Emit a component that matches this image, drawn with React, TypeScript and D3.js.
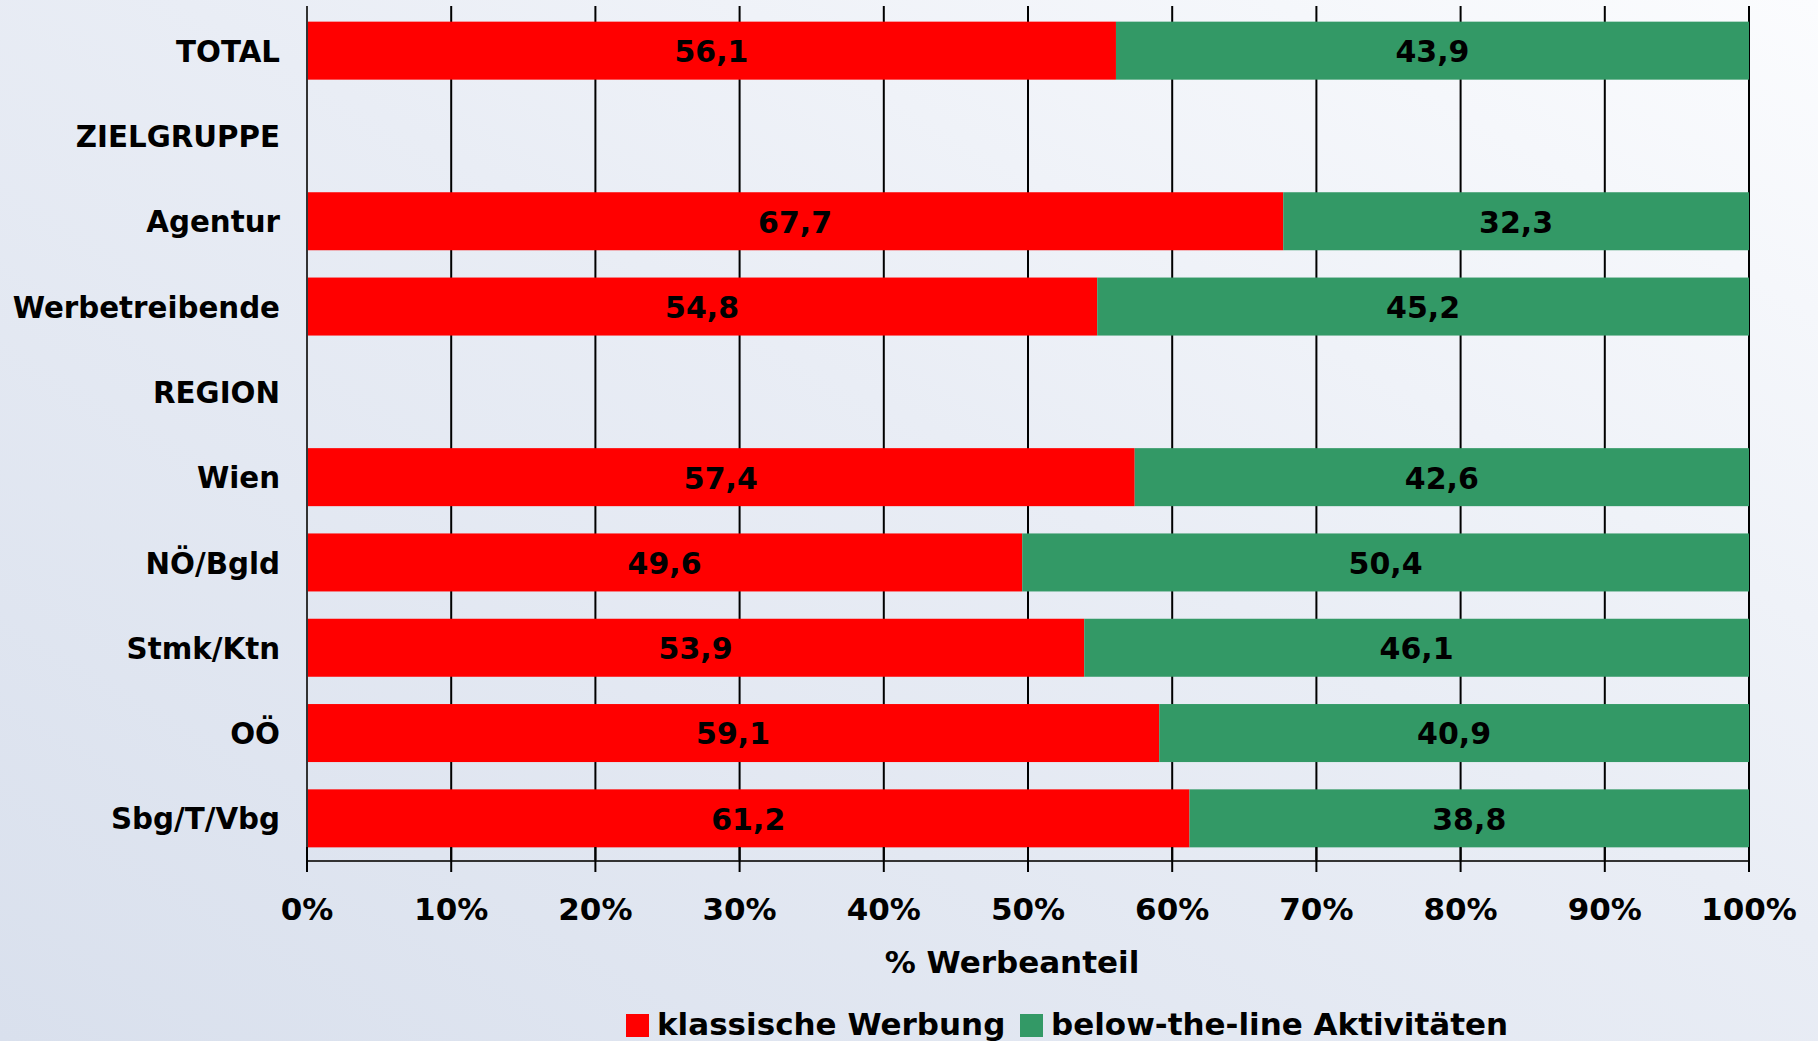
import React, { useEffect, useRef } from "react";
import * as d3 from "d3";

// categories top to bottom (empty rows are section headers)
const categories = [
  "TOTAL",
  "ZIELGRUPPE",
  "Agentur",
  "Werbetreibende",
  "REGION",
  "Wien",
  "NÖ/Bgld",
  "Stmk/Ktn",
  "OÖ",
  "Sbg/T/Vbg",
];
const klassisch = [56.1, null, 67.7, 54.8, null, 57.4, 49.6, 53.9, 59.1, 61.2];
const belowTheLine = [43.9, null, 32.3, 45.2, null, 42.6, 50.4, 46.1, 40.9, 38.8];
const seriesNames = ["klassische Werbung", "below-the-line Aktivitäten"];
const seriesColors = ["#ff0000", "#339966"];
const xTicks = [0, 10, 20, 30, 40, 50, 60, 70, 80, 90, 100];
const xTitle = "% Werbeanteil";

function App() {
  const svgRef = useRef<SVGSVGElement>(null);
  const width = 1818;
  const height = 1041;
  const margin = { top: 6, right: 70, bottom: 180, left: 307 };

  useEffect(() => {
    document.body.style.margin = "0";
    const svg = d3.select(svgRef.current);
    svg.selectAll("*").remove();

    // background gradient
    const defs = svg.append("defs");
    const grad = defs
      .append("linearGradient")
      .attr("id", "bg")
      .attr("x1", "0%")
      .attr("y1", "100%")
      .attr("x2", "100%")
      .attr("y2", "0%");
    grad.append("stop").attr("offset", "0%").attr("stop-color", "#d9e0ed");
    grad.append("stop").attr("offset", "55%").attr("stop-color", "#e9edf5");
    grad.append("stop").attr("offset", "100%").attr("stop-color", "#fbfcfe");
    svg
      .append("rect")
      .attr("width", width)
      .attr("height", height)
      .attr("fill", "url(#bg)");

    const x = d3
      .scaleLinear()
      .domain([0, 100])
      .range([margin.left, width - margin.right + 1]);
    const axisY = height - margin.bottom;
    const y = d3
      .scaleBand()
      .domain(categories)
      .range([margin.top + 2, axisY])
      .paddingInner(0.32)
      .paddingOuter(0.16);
    const font = "'DejaVu Sans', Verdana, sans-serif";

    // gridlines
    svg
      .append("g")
      .selectAll("line")
      .data(xTicks.slice(1))
      .join("line")
      .attr("x1", (d) => x(d))
      .attr("x2", (d) => x(d))
      .attr("y1", margin.top)
      .attr("y2", axisY)
      .attr("stroke", "#000")
      .attr("stroke-width", 2);

    // stacked bars
    const rows = categories.map((c, i) => ({
      cat: c,
      a: klassisch[i],
      b: belowTheLine[i],
    }));
    const g = svg.append("g");
    rows
      .filter((d) => d.a != null)
      .forEach((d) => {
        const y0 = y(d.cat)!;
        const bw = y.bandwidth();
        const segs = [
          { v0: 0, v1: d.a!, color: seriesColors[0] },
          { v0: d.a!, v1: d.a! + d.b!, color: seriesColors[1] },
        ];
        segs.forEach((s) => {
          g.append("rect")
            .attr("x", x(s.v0))
            .attr("y", y0)
            .attr("width", x(s.v1) - x(s.v0))
            .attr("height", bw)
            .attr("fill", s.color);
          g.append("text")
            .attr("x", (x(s.v0) + x(s.v1)) / 2)
            .attr("y", y0 + bw / 2)
            .attr("dy", "0.38em")
            .attr("text-anchor", "middle")
            .attr("font-family", font)
            .attr("font-weight", "bold")
            .attr("font-size", 30)
            .attr("fill", "#000")
            .text(d3.format(".1f")(s.v1 - s.v0).replace(".", ","));
        });
      });

    // left axis line
    svg
      .append("line")
      .attr("x1", margin.left)
      .attr("x2", margin.left)
      .attr("y1", margin.top)
      .attr("y2", axisY + 11)
      .attr("stroke", "#333")
      .attr("stroke-width", 2);

    // category labels
    svg
      .append("g")
      .selectAll("text")
      .data(categories)
      .join("text")
      .attr("x", margin.left - 27)
      .attr("y", (d) => y(d)! + y.bandwidth() / 2)
      .attr("dy", "0.38em")
      .attr("text-anchor", "end")
      .attr("font-family", font)
      .attr("font-weight", "bold")
      .attr("font-size", 29.3)
      .attr("fill", "#000")
      .text((d) => d);

    // bottom axis
    svg
      .append("line")
      .attr("x1", margin.left)
      .attr("x2", x(100))
      .attr("y1", axisY)
      .attr("y2", axisY)
      .attr("stroke", "#333")
      .attr("stroke-width", 2);
    const ticks = svg.append("g");
    ticks
      .selectAll("line")
      .data(xTicks)
      .join("line")
      .attr("x1", (d) => x(d))
      .attr("x2", (d) => x(d))
      .attr("y1", axisY - 14)
      .attr("y2", axisY + 11)
      .attr("stroke", "#000")
      .attr("stroke-width", 2);
    ticks
      .selectAll("text")
      .data(xTicks)
      .join("text")
      .attr("x", (d) => x(d))
      .attr("y", 920)
      .attr("text-anchor", "middle")
      .attr("font-family", font)
      .attr("font-weight", "bold")
      .attr("font-size", 31)
      .attr("fill", "#000")
      .text((d) => d + "%");

    svg
      .append("text")
      .attr("x", 1012)
      .attr("y", 973)
      .attr("text-anchor", "middle")
      .attr("font-family", font)
      .attr("font-weight", "bold")
      .attr("font-size", 31)
      .attr("fill", "#000")
      .text(xTitle);

    // legend
    const legendX = [626, 1020];
    const legend = svg
      .append("g")
      .selectAll("g")
      .data(seriesNames)
      .join("g")
      .attr("transform", (d, i) => `translate(${legendX[i]},1014)`);
    legend
      .append("rect")
      .attr("width", 23)
      .attr("height", 23)
      .attr("fill", (d, i) => seriesColors[i]);
    legend
      .append("text")
      .attr("x", 31)
      .attr("y", 21)
      .attr("font-family", font)
      .attr("font-weight", "bold")
      .attr("font-size", 31)
      .attr("fill", "#000")
      .text((d) => d);
  }, []);

  return <svg ref={svgRef} width={width} height={height} style={{ display: "block" }} />;
}

export default App;
